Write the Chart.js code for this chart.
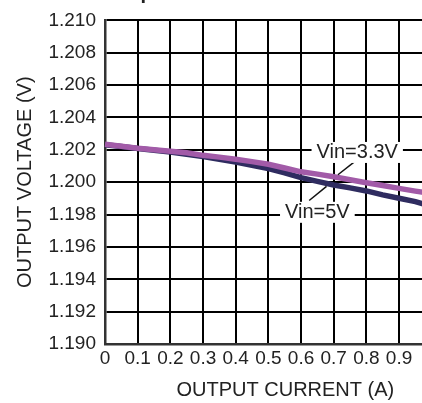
<!DOCTYPE html>
<html>
<head>
<meta charset="utf-8">
<script src="https://cdn.jsdelivr.net/npm/chart.js@4"></script>
<style>
  html, body { margin: 0; padding: 0; background: #fff; overflow: hidden; }
  #wrap { width: 440px; height: 403px; }
  canvas { display: block; }
</style>
</head>
<body>
<div id="wrap"><canvas id="chart" width="440" height="403"></canvas></div>
<script>
// Output current (A)
const currents = [0, 0.05, 0.1, 0.15, 0.2, 0.25, 0.3, 0.35, 0.4, 0.45, 0.5,
    0.55, 0.6, 0.65, 0.7, 0.75, 0.8, 0.85, 0.9, 0.95, 1.0];

// Output voltage (V) for each input voltage
const vin33 = [1.20234, 1.20222, 1.2021, 1.20201, 1.20191, 1.20182, 1.20166, 1.20155, 1.20142, 1.20127, 1.20111,
    1.20088, 1.20064, 1.2005, 1.20034, 1.20015, 1.19997, 1.1998, 1.19962, 1.19945, 1.1993];
const vin5 = [1.20232, 1.2022, 1.20208, 1.20197, 1.20187, 1.20172, 1.20158, 1.20142, 1.20125, 1.20105, 1.20084,
    1.20058, 1.20028, 1.20005, 1.19983, 1.19965, 1.19946, 1.19922, 1.19901, 1.1988, 1.1985];

const xTickLabels = ['0', '0.1', '0.2', '0.3', '0.4', '0.5', '0.6', '0.7', '0.8', '0.9', '1'];
const xTicks = [0, 0.1, 0.2, 0.3, 0.4, 0.5, 0.6, 0.7, 0.8, 0.9, 1];
const yTicks = [1.190, 1.192, 1.194, 1.196, 1.198, 1.200, 1.202, 1.204, 1.206, 1.208, 1.210];

// curve labels: text, label centre, leader line from curve to label
const labelTexts = ['Vin=3.3V', 'Vin=5V'];
const labelAt = [[0.772, 1.20187], [0.65, 1.19817]];
const leaderFrom = [[0.713, 1.20046], [0.625, 1.19887]];
const leaderTo = [[0.768, 1.20133], [0.678, 1.19974]];

const FONT = '"Liberation Sans", Arial, sans-serif';

function toPoints(values) {
    return currents.map((c, i) => ({ x: c, y: values[i] }));
}

const curveLabels = {
    id: 'curveLabels',
    afterDatasetsDraw(chart) {
        const ctx = chart.ctx;
        const xs = chart.scales.x, ys = chart.scales.y;
        ctx.save();
        ctx.font = '20px ' + FONT;
        ctx.textAlign = 'center';
        ctx.textBaseline = 'middle';
        labelTexts.forEach((text, i) => {
            // leader line
            ctx.strokeStyle = '#111';
            ctx.lineWidth = 1.5;
            ctx.beginPath();
            ctx.moveTo(xs.getPixelForValue(leaderFrom[i][0]), ys.getPixelForValue(leaderFrom[i][1]));
            ctx.lineTo(xs.getPixelForValue(leaderTo[i][0]), ys.getPixelForValue(leaderTo[i][1]));
            ctx.stroke();

            // white box behind the text
            const cx = xs.getPixelForValue(labelAt[i][0]);
            const cy = ys.getPixelForValue(labelAt[i][1]);
            const w = ctx.measureText(text).width + 10;
            ctx.fillStyle = '#fff';
            ctx.fillRect(cx - w / 2, cy - 10, w, 21);
            ctx.fillStyle = '#222';
            ctx.fillText(text, cx, cy + 1);
        });
        ctx.restore();
    }
};

const extraText = {
    id: 'extraText',
    afterDraw(chart) {
        const ctx = chart.ctx;
        const area = chart.chartArea;
        ctx.save();
        // x axis title (sits a little right of the plot centre)
        ctx.font = '20px ' + FONT;
        ctx.fillStyle = '#222';
        ctx.textAlign = 'center';
        ctx.textBaseline = 'middle';
        ctx.fillText('OUTPUT CURRENT (A)', (area.left + area.right) / 2 + 17, 390);
        // chart title, cut off by the top edge: only descenders show
        ctx.font = 'bold 20px ' + FONT;
        ctx.textAlign = 'left';
        ctx.textBaseline = 'alphabetic';
        ctx.fillText('Output Current', 106, -1);
        ctx.restore();
    }
};

new Chart(document.getElementById('chart'), {
    type: 'line',
    data: {
        datasets: [
            {
                label: 'Vin=3.3V',
                data: toPoints(vin33),
                borderColor: '#a25ba8',
                borderWidth: 5.5,
                pointRadius: 0,
                tension: 0,
                order: 1
            },
            {
                label: 'Vin=5V',
                data: toPoints(vin5),
                borderColor: '#2f2c60',
                borderWidth: 5.5,
                pointRadius: 0,
                tension: 0,
                order: 2
            }
        ]
    },
    options: {
        responsive: false,
        animation: false,
        devicePixelRatio: 1,
        clip: false,
        layout: { padding: { top: 17, right: 8, left: 0, bottom: 0 } },
        plugins: {
            legend: { display: false },
            tooltip: { enabled: false }
        },
        scales: {
            x: {
                type: 'linear',
                min: 0,
                max: 1,
                afterBuildTicks: axis => { axis.ticks = xTicks.map(v => ({ value: v })); },
                afterFit: axis => { axis.height = 59; },
                ticks: {
                    color: '#222',
                    font: { family: FONT, size: 19 },
                    padding: 3,
                    maxRotation: 0,
                    autoSkip: false,
                    callback: (v, i) => xTickLabels[i]
                },
                grid: { color: '#000', lineWidth: 2, drawTicks: false },
                border: { color: '#333', width: 2.5 }
            },
            y: {
                min: 1.190,
                max: 1.210,
                afterBuildTicks: axis => { axis.ticks = yTicks.map(v => ({ value: v })); },
                afterFit: axis => { axis.width = 105; },
                ticks: {
                    color: '#222',
                    font: { family: FONT, size: 19 },
                    padding: 9,
                    callback: v => v.toFixed(3)
                },
                grid: { color: '#000', lineWidth: 2, drawTicks: false },
                border: { color: '#333', width: 2.5 },
                title: {
                    display: true,
                    text: 'OUTPUT VOLTAGE (V)',
                    color: '#222',
                    font: { family: FONT, size: 20 },
                    padding: { top: 13, bottom: 0 }
                }
            }
        }
    },
    plugins: [curveLabels, extraText]
});
</script>
</body>
</html>
